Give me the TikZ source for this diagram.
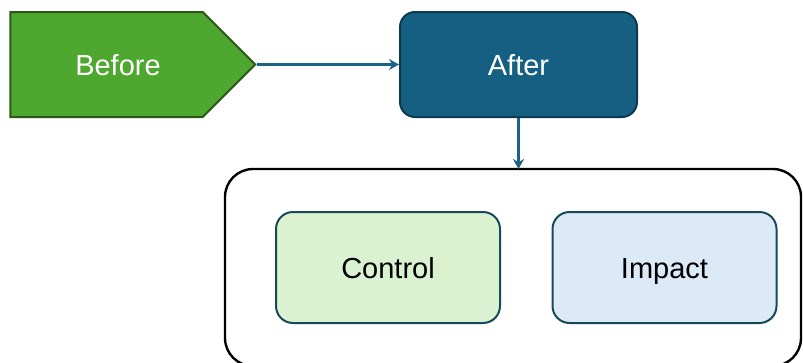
\documentclass[tikz,border=0pt]{standalone}
\usepackage{fontspec}
\setmainfont{Liberation Sans}
\usetikzlibrary{arrows.meta,shapes.symbols}

\definecolor{leaf}{HTML}{4EA72E}
\definecolor{leafdark}{HTML}{2B5719}
\definecolor{navy}{HTML}{156082}
\definecolor{navydark}{HTML}{0D3A4F}
\definecolor{wire}{HTML}{1B6485}
\definecolor{mint}{HTML}{DAF2D0}
\definecolor{sky}{HTML}{DCE9F6}
\definecolor{teal}{HTML}{17495B}

\begin{document}
\begin{tikzpicture}[x=1pt, y=-1pt, anno/.style = {line width=2.6pt, draw=wire, -{Stealth[length = 10pt, width = 11pt]}}]
    \useasboundingbox (0,0) rectangle (803,362);
    \tikzstyle{lbl}=[font=\fontsize{29}{34}\selectfont, text height=24pt, text depth=3pt]
    \tikzstyle{box}=[draw, line width=2pt, rounded corners=17pt, minimum width=224pt, minimum height=111pt, lbl]

    % the stage arrow and the result box
    \node[signal, signal to=east, signal pointer angle=90, draw=leafdark, fill=leaf, line width=2pt,
          minimum width=245pt, minimum height=105pt, text=white, lbl] (before) at (106.5,64.5) {\hspace*{23pt}Before};
    \node[box, draw=navydark, fill=navy, text=white, rounded corners=15pt,
          minimum width=237pt, minimum height=105pt] (after) at (518.5,64.5) {After};

    % outer frame, runs out at the bottom edge
    \draw[line width=2.4pt, rounded corners=28pt] (225,169) rectangle (801,366);
    \coordinate (frame) at (518.5,169);

    \node[box, draw=teal, fill=mint] (control) at (388,267.5) {Control};
    \node[box, draw=teal, fill=sky] (impact) at (664.5,267.5) {Impact};

    \draw [anno] (before.east) to (after.west);
    \draw [anno] (after.south) to (frame);
\end{tikzpicture}
\end{document}
